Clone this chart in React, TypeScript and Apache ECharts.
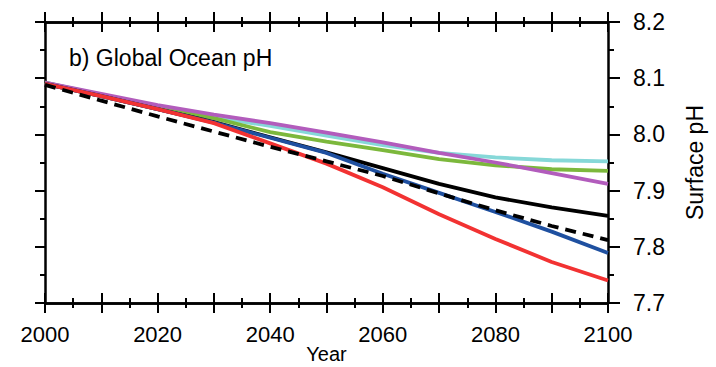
import React, { useEffect, useRef } from "react";
import * as echarts from "echarts";

const years = [2000, 2010, 2020, 2030, 2040, 2050, 2060, 2070, 2080, 2090, 2100];
const cyanVals = [8.092, 8.071, 8.050, 8.031, 8.015, 7.998, 7.981, 7.967, 7.959, 7.954, 7.952];
const greenVals = [8.092, 8.070, 8.049, 8.029, 8.004, 7.987, 7.972, 7.956, 7.945, 7.938, 7.935];
const purpleVals = [8.092, 8.072, 8.052, 8.035, 8.020, 8.003, 7.986, 7.967, 7.950, 7.931, 7.912];
const blackVals = [8.090, 8.068, 8.045, 8.022, 7.995, 7.968, 7.940, 7.912, 7.888, 7.870, 7.855];
const blueVals = [8.090, 8.068, 8.045, 8.021, 7.994, 7.967, 7.930, 7.896, 7.862, 7.827, 7.789];
const redVals = [8.090, 8.068, 8.045, 8.020, 7.984, 7.948, 7.906, 7.858, 7.814, 7.773, 7.740];
const dashedVals = [8.088, 8.060, 8.032, 8.005, 7.978, 7.952, 7.926, 7.895, 7.865, 7.837, 7.812];
const yTickLabels = ["7.7", "7.8", "7.9", "8.0", "8.1", "8.2"];

const FONT = "Liberation Sans, Arial, Helvetica, sans-serif";

export default function App() {
  const ref = useRef<HTMLDivElement>(null);
  useEffect(() => {
    if (!ref.current) return;
    const chart = echarts.init(ref.current, null, { renderer: "svg" });
    const pairs = (vals: number[]) => years.map((y, i) => [y, vals[i]]);
    const mkLine = () => ({ show: true, onZero: false, lineStyle: { color: "#000", width: 2.5 } });
    const mkTick = (inside: boolean, length: number) => ({
      show: true,
      inside,
      length,
      lineStyle: { color: "#000", width: 2 },
    });
    const mkMinor = (length: number) => ({
      show: true,
      splitNumber: 2,
      length,
      lineStyle: { color: "#000", width: 2 },
    });
    const mkX = (position: string, inside: boolean, labels: boolean, extra: any = {}) => ({
      type: "value",
      min: 2000,
      max: 2100,
      interval: 10,
      splitLine: { show: false },
      axisLine: mkLine(),
      position,
      axisTick: mkTick(inside, 10),
      minorTick: mkMinor(5),
      axisLabel: labels
        ? {
            show: true,
            margin: 20,
            fontSize: 22,
            color: "#000",
            fontFamily: FONT,
            formatter: (v: number) => (v % 20 === 0 ? String(v) : ""),
          }
        : { show: false },
      ...extra,
    });
    const line = (name: string, vals: number[], color: string, dashed = false) => ({
      name,
      type: "line",
      data: pairs(vals),
      xAxisIndex: 0,
      yAxisIndex: 0,
      symbol: "none",
      lineStyle: { color, width: 3.8, type: dashed ? [11, 7] : "solid" },
      z: dashed ? 5 : 2,
    });
    chart.setOption({
      animation: false,
      backgroundColor: "#fff",
      title: {
        text: "b) Global Ocean pH",
        left: 64,
        top: 41,
        textStyle: { fontSize: 23, fontWeight: "normal", color: "#000", fontFamily: FONT },
      },
      grid: { left: 45, right: 108, top: 22, bottom: 64, outerBoundsMode: "none", containLabel: false },
      xAxis: [
        mkX("bottom", false, true, {
          name: "Year",
          nameLocation: "middle",
          nameGap: 41,
          nameMoveOverlap: false,
          nameTextStyle: { fontSize: 20, color: "#000", fontFamily: FONT },
        }),
        mkX("bottom", true, false),
        mkX("top", true, false),
        mkX("top", false, false),
      ],
      yAxis: [
        {
          type: "value",
          position: "left",
          min: 7.7,
          max: 8.2,
          interval: 0.1,
          splitLine: { show: false },
          axisLine: mkLine(),
          axisTick: mkTick(false, 10),
          minorTick: mkMinor(5),
          axisLabel: { show: false },
        },
        {
          type: "value",
          position: "right",
          min: 7.7,
          max: 8.2,
          interval: 0.1,
          splitLine: { show: false },
          axisLine: mkLine(),
          axisTick: mkTick(false, 12),
          minorTick: mkMinor(6),
          axisLabel: {
            show: true,
            margin: 25,
            fontSize: 23,
            color: "#000",
            fontFamily: FONT,
            formatter: (v: number) => {
              const s = v.toFixed(1);
              return yTickLabels.includes(s) ? s : "";
            },
          },
          name: "Surface pH",
          nameLocation: "middle",
          nameRotate: 90,
          nameGap: 75,
          nameMoveOverlap: false,
          nameTextStyle: { fontSize: 23, color: "#000", fontFamily: FONT },
        },
      ],
      series: [
        line("cyan", cyanVals, "#86d8d8"),
        line("green", greenVals, "#7cb83c"),
        line("purple", purpleVals, "#b25cbc"),
        line("black", blackVals, "#000000"),
        line("blue", blueVals, "#1f50a0"),
        line("red", redVals, "#f23232"),
        line("dashed", dashedVals, "#000000", true),
      ],
    });
    return () => chart.dispose();
  }, []);
  return <div ref={ref} style={{ width: 716, height: 367, position: "absolute", left: 0, top: 0 }} />;
}
